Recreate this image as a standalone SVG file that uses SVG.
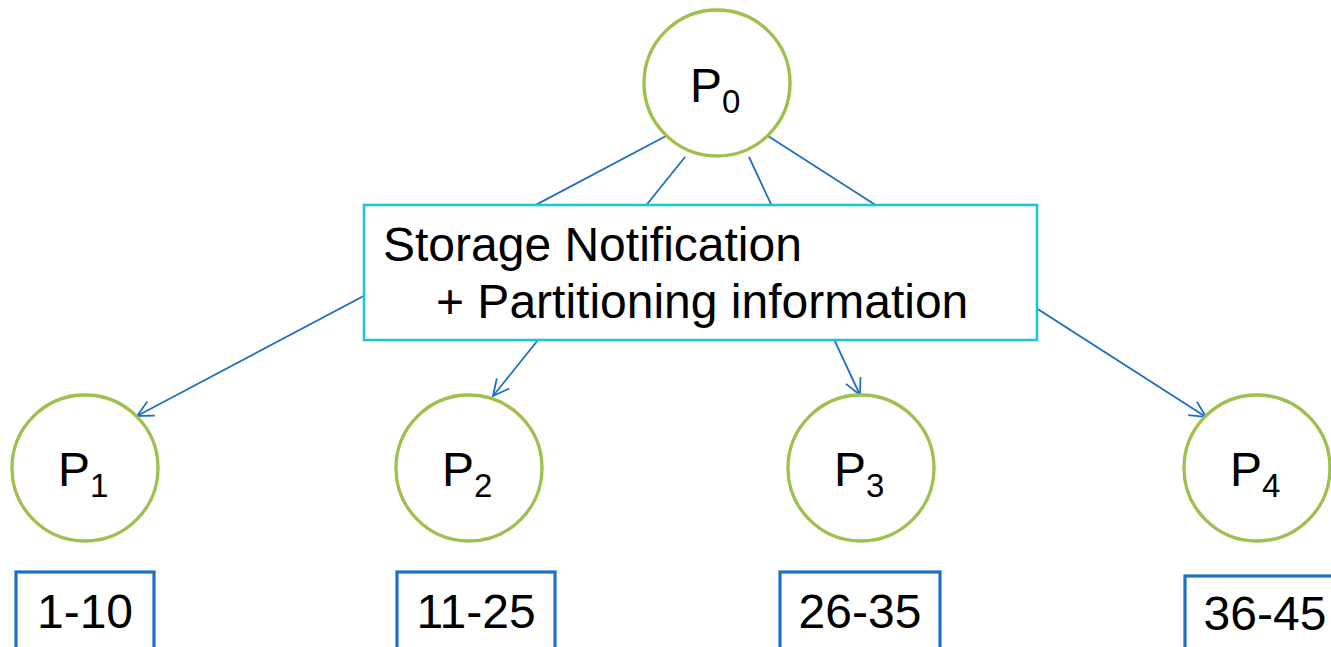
<svg xmlns="http://www.w3.org/2000/svg" width="1331" height="647" viewBox="0 0 1331 647">
  <defs>
    <style>
      .proc { fill: #ffffff; stroke: #9FC04F; stroke-width: 3.4; }
      .label { font-family: "Liberation Sans", Arial, sans-serif; font-size: 48px; fill: #000000; }
      .sub { font-size: 33px; }
      .msg { fill: #ffffff; stroke: #1EC6DC; stroke-width: 2.6; }
      .range { fill: #ffffff; stroke: #1F6FC5; stroke-width: 3.2; }
      .link { fill: none; stroke: #1F6FC5; stroke-width: 1.8; }
    </style>
    <marker id="arrow" viewBox="0 0 20 20" refX="18" refY="10" markerWidth="20" markerHeight="20" markerUnits="userSpaceOnUse" orient="auto">
      <path d="M2,2 L18,10 L2,18" fill="none" stroke="#1F6FC5" stroke-width="1.8"/>
    </marker>
  </defs>

  <rect width="1331" height="647" fill="#ffffff"/>

  <!-- connectors from P0 to each worker -->
  <g id="connectors">
    <line class="link" x1="666" y1="136" x2="137" y2="416" marker-end="url(#arrow)"/>
    <line class="link" x1="685" y1="157" x2="493" y2="396" marker-end="url(#arrow)"/>
    <line class="link" x1="749" y1="157" x2="860" y2="395" marker-end="url(#arrow)"/>
    <line class="link" x1="768" y1="136" x2="1206" y2="417" marker-end="url(#arrow)"/>
  </g>

  <!-- message box laid over the connectors -->
  <g id="message">
    <rect class="msg" x="364" y="205" width="673" height="135"/>
    <text class="label" x="383" y="261">Storage Notification</text>
    <text class="label" x="436" y="318">+ Partitioning information</text>
  </g>

  <g id="p0">
    <circle class="proc" cx="717" cy="83" r="73"/>
    <text class="label" x="690" y="102">P<tspan class="sub" dy="11">0</tspan></text>
  </g>

  <g id="p1">
    <circle class="proc" cx="85" cy="468" r="73"/>
    <text class="label" x="58" y="486">P<tspan class="sub" dy="11">1</tspan></text>
  </g>

  <g id="p2">
    <circle class="proc" cx="469" cy="468" r="73"/>
    <text class="label" x="442" y="486">P<tspan class="sub" dy="11">2</tspan></text>
  </g>

  <g id="p3">
    <circle class="proc" cx="861" cy="468" r="73"/>
    <text class="label" x="834" y="486">P<tspan class="sub" dy="11">3</tspan></text>
  </g>

  <g id="p4">
    <circle class="proc" cx="1257" cy="468" r="73"/>
    <text class="label" x="1230" y="486">P<tspan class="sub" dy="11">4</tspan></text>
  </g>

  <!-- key ranges held by each worker -->
  <g id="range1">
    <rect class="range" x="16" y="572" width="138" height="90"/>
    <text class="label" x="85" y="628" text-anchor="middle">1-10</text>
  </g>

  <g id="range2">
    <rect class="range" x="397" y="572" width="158" height="90"/>
    <text class="label" x="476" y="628" text-anchor="middle">11-25</text>
  </g>

  <g id="range3">
    <rect class="range" x="780" y="572" width="160" height="90"/>
    <text class="label" x="860" y="628" text-anchor="middle">26-35</text>
  </g>

  <g id="range4">
    <rect class="range" x="1185" y="576" width="160" height="90"/>
    <text class="label" x="1265" y="630" text-anchor="middle">36-45</text>
  </g>
</svg>
